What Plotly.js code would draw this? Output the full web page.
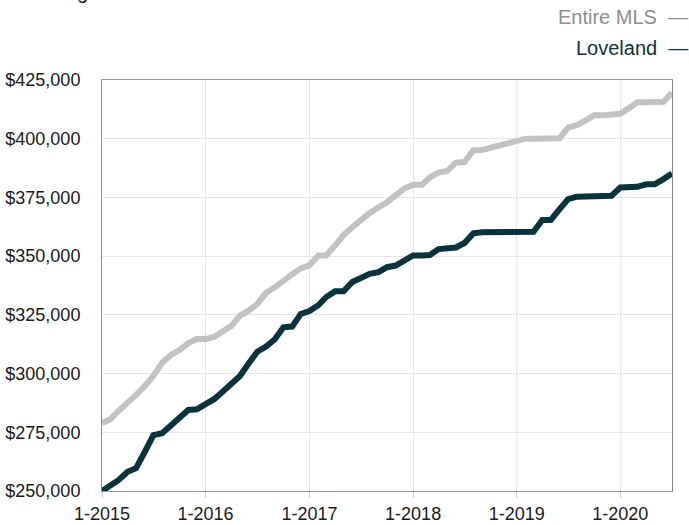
<!DOCTYPE html>
<html>
<head>
<meta charset="utf-8">
<script src="https://cdn.plot.ly/plotly-3.0.1.min.js"></script>
<style>html,body{margin:0;padding:0;background:#fff;}#chart{width:689px;height:525px;}</style>
</head>
<body>
<div id="chart"></div>
<script>
var months = [
  '2015-01','2015-02','2015-03','2015-04','2015-05','2015-06','2015-07','2015-08','2015-09','2015-10','2015-11','2015-12',
  '2016-01','2016-02','2016-03','2016-04','2016-05','2016-06','2016-07','2016-08','2016-09','2016-10','2016-11','2016-12',
  '2017-01','2017-02','2017-03','2017-04','2017-05','2017-06','2017-07','2017-08','2017-09','2017-10','2017-11','2017-12',
  '2018-01','2018-02','2018-03','2018-04','2018-05','2018-06','2018-07','2018-08','2018-09','2018-10','2018-11','2018-12',
  '2019-01','2019-02','2019-03','2019-04','2019-05','2019-06','2019-07','2019-08','2019-09','2019-10','2019-11','2019-12',
  '2020-01','2020-02','2020-03','2020-04','2020-05','2020-06','2020-07'
];
var entireMLS = [
  278800,280700,284200,287300,290900,294700,299000,304600,307900,310000,312900,314700,
  314700,315700,318300,320300,324700,326800,329600,334400,336700,339800,342300,344800,
  346100,350300,350300,354500,359000,362300,365500,368400,370800,372900,376000,378800,
  380400,380400,383500,385600,386300,389800,390100,395100,395200,396200,397200,398000,
  399400,400000,400000,400000,400000,400200,404700,405800,407800,410000,410000,410000,
  410600,413100,415500,415500,415500,415700,419500
];
var loveland = [
  250000,252500,254700,258200,259700,266700,273800,274600,278100,281600,284500,284800,
  287000,289200,292300,295400,299000,304400,309300,311500,314600,319700,320000,325400,
  326600,329100,332600,335000,335000,339000,340700,342500,343200,345300,346000,348200,
  350300,350300,350500,353000,353400,353700,355600,359700,360200,360200,360200,360200,
  360200,360200,360400,365400,365400,370000,374300,375300,375300,375300,375300,375700,
  379200,379200,379500,380600,380600,382800,385200
];
var seriesNames = ['Entire MLS', 'Loveland'];
var titleText = 'Rolling 12-Month Calculation';

var font = 'Liberation Sans, Arial, Helvetica, sans-serif';
var mlsColor = '#c2c2c2';
var lovColor = '#08323c';

var traces = [
  {x: months, y: entireMLS, type: 'scatter', mode: 'lines', name: seriesNames[0],
   line: {color: mlsColor, width: 6}},
  {x: months, y: loveland, type: 'scatter', mode: 'lines', name: seriesNames[1],
   line: {color: lovColor, width: 6}}
];

var layout = {
  width: 689, height: 525,
  margin: {l: 102, r: 17, t: 80, b: 34},
  paper_bgcolor: '#fff', plot_bgcolor: '#fff',
  showlegend: false,
  font: {family: font, size: 18, color: '#1a1a1a'},
  xaxis: {
    type: 'date',
    range: ['2015-01-01', '2020-07-01'],
    tick0: '2015-01-01', dtick: 'M12',
    tickformat: '%-m-%Y',
    showgrid: true, gridcolor: '#e6e6e6', gridwidth: 1,
    showline: true, linecolor: '#9a9a9a', linewidth: 1, mirror: true,
    ticks: 'outside', ticklen: 6, tickcolor: '#cccccc',
    tickfont: {family: font, size: 18, color: '#1a1a1a'},
    zeroline: false, fixedrange: true
  },
  yaxis: {
    range: [250000, 425000],
    dtick: 25000, tick0: 250000,
    tickprefix: '$', tickformat: ',d',
    showgrid: true, gridcolor: '#e6e6e6', gridwidth: 1,
    showline: true, linecolor: '#8a8a8a', linewidth: 1, mirror: true,
    ticks: '', ticklabelstandoff: 17,
    tickfont: {family: font, size: 18, color: '#1a1a1a'},
    zeroline: false, fixedrange: true
  },
  annotations: [
    {text: titleText, xref: 'paper', yref: 'paper', x: -0.1345, y: 1 + (80 + 8) / 411,
     xanchor: 'left', yanchor: 'middle', showarrow: false,
     font: {family: font, size: 20, color: '#1a1a1a'}},
    {text: seriesNames[0] + '  \u2014', xref: 'paper', yref: 'paper', x: (690 - 102) / 570, y: 1 + (80 - 17) / 411,
     xanchor: 'right', yanchor: 'middle', showarrow: false,
     font: {family: font, size: 20, color: '#8e8e8e'}},
    {text: seriesNames[1] + '  \u2014', xref: 'paper', yref: 'paper', x: (690 - 102) / 570, y: 1 + (80 - 48) / 411,
     xanchor: 'right', yanchor: 'middle', showarrow: false,
     font: {family: font, size: 20, color: '#0b3440'}}
  ]
};

Plotly.newPlot('chart', traces, layout, {displayModeBar: false, staticPlot: true});
</script>
</body>
</html>
